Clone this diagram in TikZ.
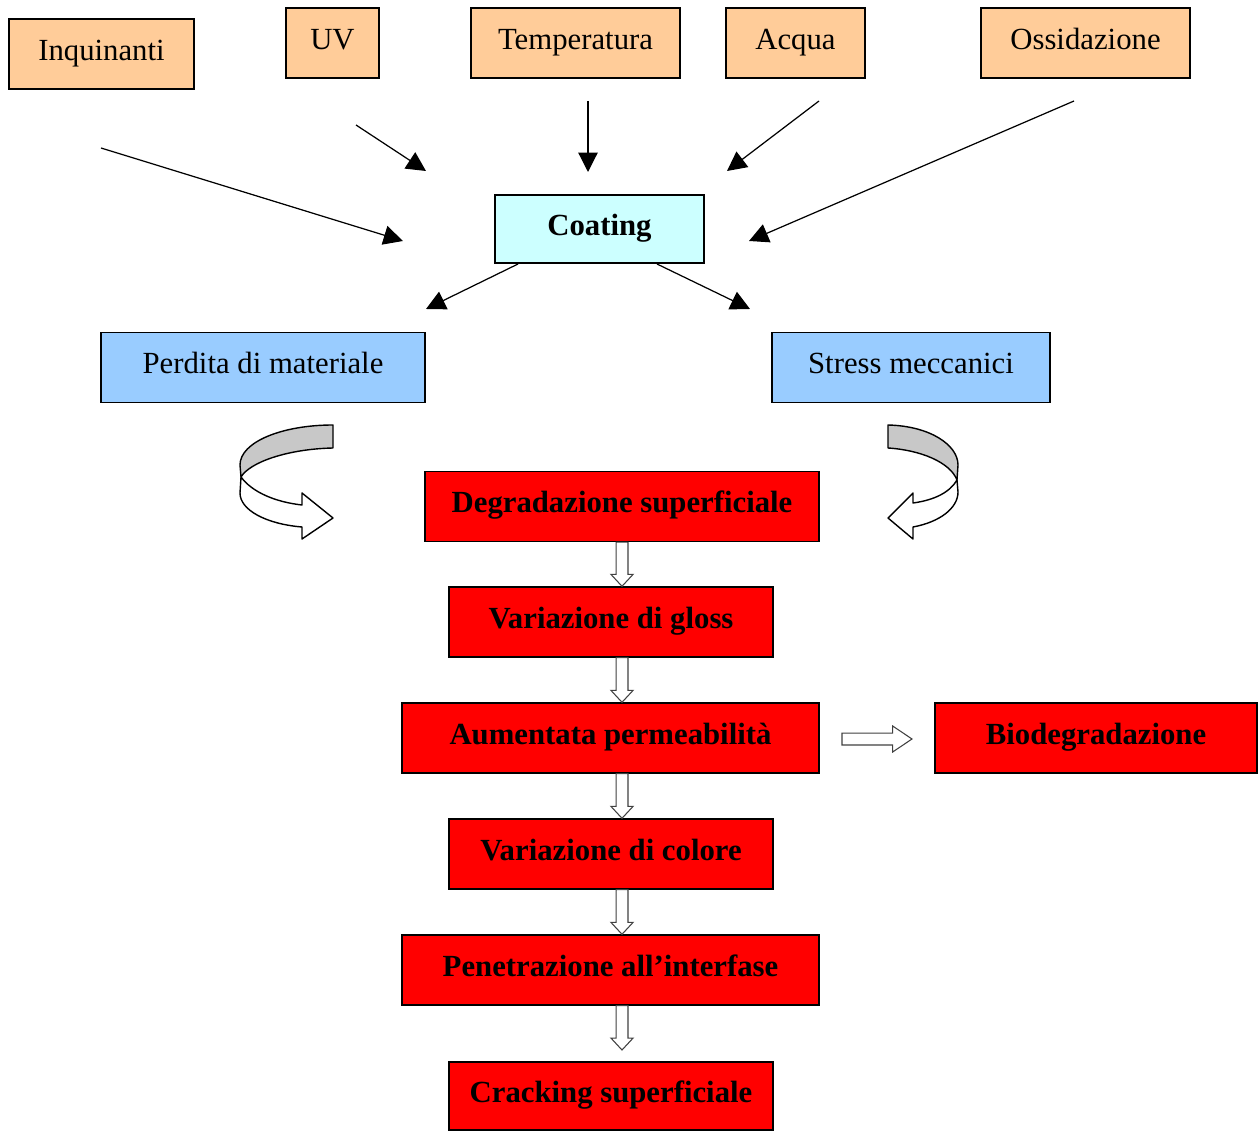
\documentclass[tikz,border=0pt]{standalone}
\usepackage{fontspec}
\setmainfont{Liberation Serif}
\usetikzlibrary{arrows.meta,calc}
\definecolor{orangebox}{HTML}{FFCC99}
\definecolor{cyanbox}{HTML}{CCFFFF}
\definecolor{bluebox}{HTML}{99CCFF}
\definecolor{redbox}{HTML}{FF0000}
\definecolor{bandgray}{HTML}{C8C8C8}
\newcommand\blockdown[2]{%
  \draw[blockarr] let \p1=(#1 -| ax), \p2=(#2 -| ax) in
    (\x1-3.4pt,\y1) -- (\x1+3.4pt,\y1) -- (\x1+3.4pt,\y2+6.8pt) -- (\x1+6.3pt,\y2+6.8pt)
    -- (\x1,\y2) -- (\x1-6.3pt,\y2+6.8pt) -- (\x1-3.4pt,\y2+6.8pt) -- cycle;}
\begin{document}
\begin{tikzpicture}[x=0.02cm,y=-0.02cm,
  box/.style={draw=black, line width=0.8pt, minimum height=1.4cm, text height=12pt, text depth=5pt,
    inner sep=0pt, font=\fontsize{17.5}{20}\selectfont},
  obox/.style={box, fill=orangebox},
  cbox/.style={box, fill=cyanbox, font=\fontsize{17.5}{20}\selectfont\bfseries},
  bbox/.style={box, fill=bluebox},
  rbox/.style={box, fill=redbox, font=\fontsize{17.5}{20}\selectfont\bfseries},
  thinarr/.style={line width=0.7pt, -{Triangle[length=11pt,width=11pt]}},
  blockarr/.style={draw=black!75, line width=0.6pt, fill=white, line join=miter},
  curvearr/.style={draw=black, line width=0.8pt, line join=round}]
\useasboundingbox (0,0) rectangle (1258,1131);

% top factor boxes
\node[obox, minimum width=3.7cm] (inq) at (101.5,54) {Inquinanti};
\node[obox, minimum width=1.86cm] (uv) at (332.5,43) {UV};
\node[obox, minimum width=4.18cm] (temp) at (575.5,43) {Temperatura};
\node[obox, minimum width=2.78cm] (acq) at (795.5,43) {Acqua};
\node[obox, minimum width=4.18cm] (oss) at (1085.5,43) {Ossidazione};

% coating
\node[cbox, minimum width=4.18cm, minimum height=1.36cm] (coat) at (599.5,229) {Coating};

% second level
\node[bbox, minimum width=6.48cm] (perd) at (263,367.5) {Perdita di materiale};
\node[bbox, minimum width=5.56cm] (stress) at (911,367.5) {Stress meccanici};

% red chain
\node[rbox, minimum width=7.88cm] (degr) at (622,506.5) {Degradazione superficiale};
\node[rbox, minimum width=6.48cm] (gloss) at (611,622) {Variazione di gloss};
\node[rbox, minimum width=8.34cm] (perm) at (610.5,738) {Aumentata permeabilità};
\node[rbox, minimum width=6.44cm] (bio) at (1096,738) {Biodegradazione};
\node[rbox, minimum width=6.48cm] (col) at (611,854) {Variazione di colore};
\node[rbox, minimum width=8.34cm] (pen) at (610.5,970) {Penetrazione all’interfase};
\node[rbox, minimum width=6.48cm, minimum height=1.36cm] (crack) at (611,1096) {Cracking superficiale};

% thin arrows (free ends)
\coordinate (inqA) at (101,148);   \coordinate (inqB) at (403,241);
\coordinate (uvA) at (356,125);    \coordinate (uvB) at (426,171);
\coordinate (tempA) at (588,101);  \coordinate (tempB) at (588,172);
\coordinate (acqA) at (819,101);   \coordinate (acqB) at (727,171);
\coordinate (ossA) at (1074,101);  \coordinate (ossB) at (749,241);
\coordinate (coatL) at (518,264);  \coordinate (perdT) at (426,309);
\coordinate (coatR) at (657,264);  \coordinate (stressT) at (750,309);
\draw[thinarr] (inqA) -- (inqB);
\draw[thinarr] (uvA) -- (uvB);
\draw[thinarr] (tempA) -- (tempB);
\draw[thinarr] (acqA) -- (acqB);
\draw[thinarr] (ossA) -- (ossB);
\draw[thinarr] (coatL) -- (perdT);
\draw[thinarr] (coatR) -- (stressT);

% block arrows down the chain
\coordinate (ax) at (622,0);
\coordinate (crackTop) at (611,1050);
\blockdown{degr.south}{gloss.north}
\blockdown{gloss.south}{perm.north}
\blockdown{perm.south}{col.north}
\blockdown{col.south}{pen.north}
\blockdown{pen.south}{crackTop}

% block arrow to the right
\coordinate (permR) at (842,739);
\coordinate (bioL) at (912,739);
\draw[blockarr] let \p1=(permR), \p2=(bioL) in
  (\x1,\y1+3.4pt) -- (\x2-11pt,\y1+3.4pt) -- (\x2-11pt,\y1+7.4pt) -- (\x2,\y1)
  -- (\x2-11pt,\y1-7.4pt) -- (\x2-11pt,\y1-3.4pt) -- (\x1,\y1-3.4pt) -- cycle;

% left curved arrow
\draw[curvearr, fill=bandgray] (333,425) .. controls (282,425) and (240,442) .. (240,465) -- (241,477)
  .. controls (250,462) and (288,449) .. (333,448) -- cycle;
\draw[curvearr, fill=white] (241,477) .. controls (252,492) and (275,502) .. (302,505)
  -- (302,493) -- (333,518) -- (302,539) -- (302,527)
  .. controls (266,524) and (240,510) .. (240,493) -- cycle;

% right curved arrow
\draw[curvearr, fill=bandgray] (888,425) .. controls (930,426) and (958,445) .. (958,465) -- (957,480)
  .. controls (950,462) and (920,450) .. (888,448) -- cycle;
\draw[curvearr, fill=white] (957,480) .. controls (950,492) and (935,500) .. (913,503)
  -- (913,493) -- (888,518) -- (913,539) -- (913,527)
  .. controls (940,522) and (958,508) .. (958,492) -- cycle;
\end{tikzpicture}
\end{document}
